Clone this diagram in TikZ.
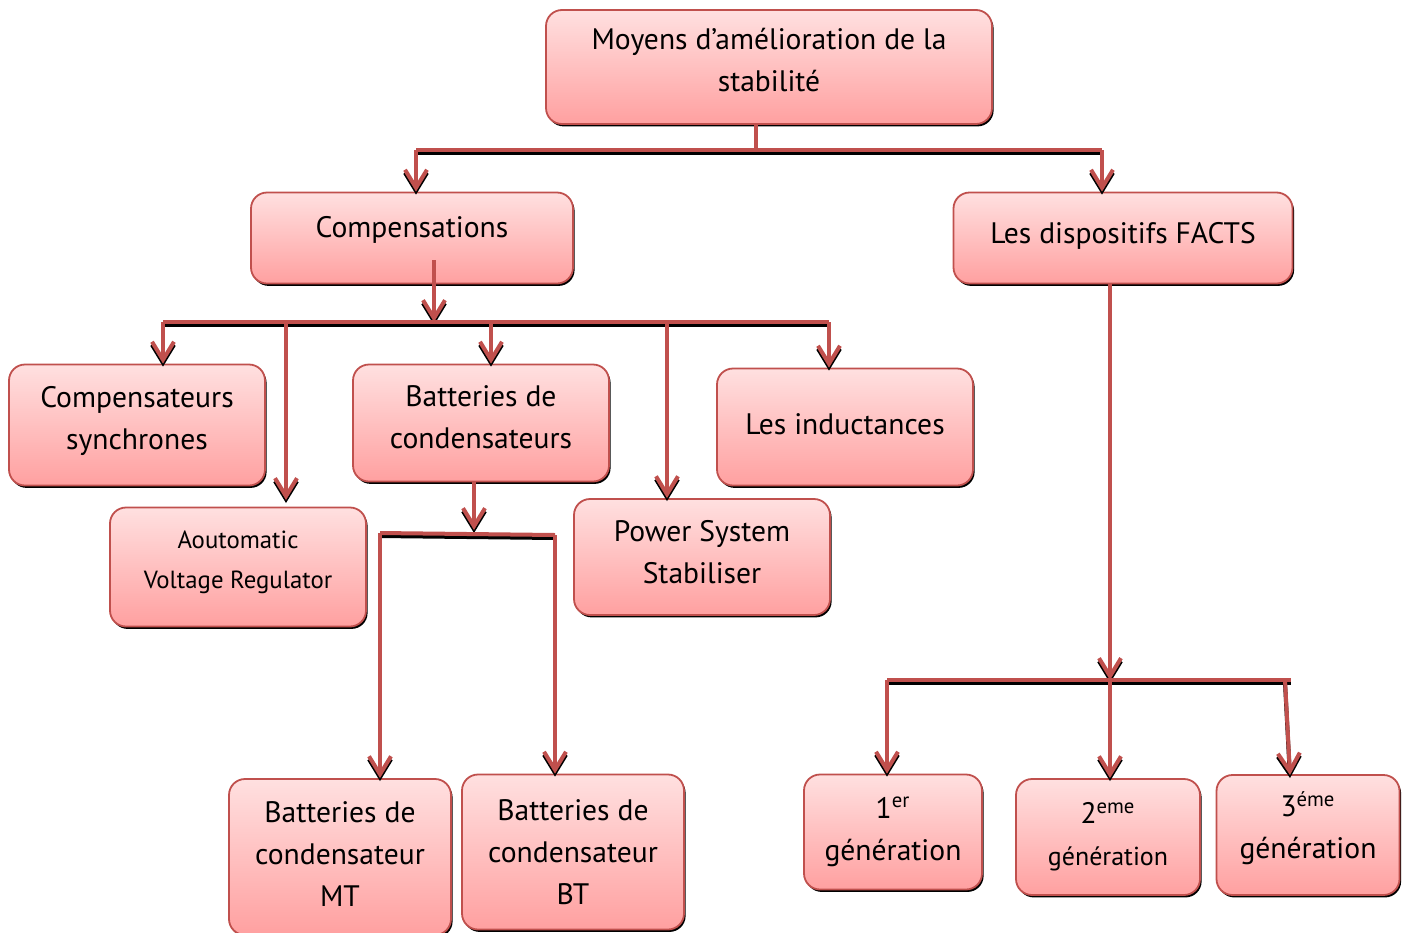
\documentclass[tikz,border=0pt]{standalone}
\usepackage{fontspec}
\setmainfont{PT Sans}
\usetikzlibrary{arrows.meta,shadows}
\definecolor{boxline}{RGB}{192,80,77}
\definecolor{boxtop}{RGB}{255,224,224}
\definecolor{boxbot}{RGB}{255,160,160}
\definecolor{linkred}{RGB}{192,80,77}
\newcommand{\lift}[1][8pt]{\rule[-#1]{0pt}{#1}}

\begin{document}
\begin{tikzpicture}[x=0.5pt,y=-0.5pt,
  box/.style={draw=boxline,line width=0.9pt,rounded corners=8pt,top color=boxtop,bottom color=boxbot,
    align=center,inner sep=2pt,font=\fontsize{14.8}{21}\selectfont,
    drop shadow={shadow xshift=0.8pt,shadow yshift=-1.2pt,fill=black,opacity=1}},
  small/.style={font=\fontsize{12.4}{20}\selectfont},
  under/.style={black,line width=2pt,transform canvas={yshift=-1.5pt}},
  over/.style={linkred,line width=2pt},
  tip/.style={-{Straight Barb[length=9pt,width=11pt]}}]
  \useasboundingbox (0,0) rectangle (1407,932);

  % boxes
  \node[box,minimum width=223pt,minimum height=57pt] (top) at (769,67) {Moyens d’amélioration de la\\stabilité\lift[7pt]};
  \node[box,minimum width=161pt,minimum height=45.5pt] (comp) at (412,238) {Compensations\lift[11pt]};
  \node[box,minimum width=169.5pt,minimum height=45.5pt] (facts) at (1123,238) {Les dispositifs FACTS\lift[5pt]};
  \node[box,minimum width=128pt,minimum height=60.5pt] (synch) at (137,425) {Compensateurs\\synchrones\lift[7.5pt]};
  \node[box,minimum width=128pt,minimum height=58.5pt] (batt) at (481,423) {Batteries de\\condensateurs\lift[6pt]};
  \node[box,minimum width=128pt,minimum height=58.5pt] (ind) at (845,427) {Les inductances\lift[3pt]};
  \node[box,small,minimum width=128pt,minimum height=59.5pt] (avr) at (238,567) {Aoutomatic\\Voltage Regulator\lift[7pt]};
  \node[box,minimum width=128pt,minimum height=58pt] (pss) at (702,557) {Power System\\Stabiliser\lift[5.5pt]};
  \node[box,minimum width=111pt,minimum height=78pt] (mt) at (340,857) {Batteries de\\condensateur\\MT\lift[3pt]};
  \node[box,minimum width=111pt,minimum height=77.5pt] (bt) at (573,852) {Batteries de\\condensateur\\BT};
  \node[box,minimum width=89pt,minimum height=57.5pt] (gen1) at (893,832) {1\textsuperscript{er}\\génération};
  \node[box,minimum width=92pt,minimum height=58pt] (gen2) at (1108,837) {2\textsuperscript{eme}\\{\fontsize{13}{20}\selectfont génération}};
  \node[box,minimum width=91.5pt,minimum height=60pt] (gen3) at (1308,835) {3\textsuperscript{éme}\\génération\lift[10pt]};

  % bus points
  \coordinate (t0) at (756,150);
  \coordinate (tl) at (416,150);
  \coordinate (tr) at (1102,150);
  \coordinate (cs) at (434,260);
  \coordinate (c0) at (434,322);
  \coordinate (c1) at (163,322);
  \coordinate (c2) at (286,322);
  \coordinate (c3) at (491,322);
  \coordinate (c4) at (667,322);
  \coordinate (c5) at (829,322);
  \coordinate (ce) at (286,500);
  \coordinate (b0) at (474,530);
  \coordinate (b1) at (380,533);
  \coordinate (b2) at (555,535);
  \coordinate (f0) at (1110,680);
  \coordinate (f1) at (887,680);
  \coordinate (f3) at (1291,680);
  \coordinate (f4) at (1285,680);
  \coordinate (fe) at (1290,775);

  % connectors: black shadow first, red on top
  \foreach \s in {under,over} {
    \draw[\s] (top.south -| t0) -- (t0);
    \draw[\s] (tl) -- (tr);
    \draw[\s,tip] (tl) -- (tl |- comp.north);
    \draw[\s,tip] (tr) -- (tr |- facts.north);
    \draw[\s] (c1) -- (c5);
    \draw[\s,tip] (cs) -- (c0);
    \draw[\s,tip] (c1) -- (c1 |- synch.north);
    \draw[\s,tip] (c2) -- (ce);
    \draw[\s,tip] (c3) -- (c3 |- batt.north);
    \draw[\s,tip] (c4) -- (c4 |- pss.north);
    \draw[\s,tip] (c5) -- (c5 |- ind.north);
    \draw[\s] (b1) -- (b2);
    \draw[\s,tip] (batt.south -| b0) -- (b0);
    \draw[\s,tip] (b1) -- (b1 |- mt.north);
    \draw[\s,tip] (b2) -- (b2 |- bt.north);
    \draw[\s] (f1) -- (f3);
    \draw[\s,tip] (facts.south -| f0) -- (f0);
    \draw[\s,tip] (f1) -- (f1 |- gen1.north);
    \draw[\s,tip] (f0) -- (f0 |- gen2.north);
    \draw[\s,tip] (f4) -- (fe);
  }
\end{tikzpicture}
\end{document}
